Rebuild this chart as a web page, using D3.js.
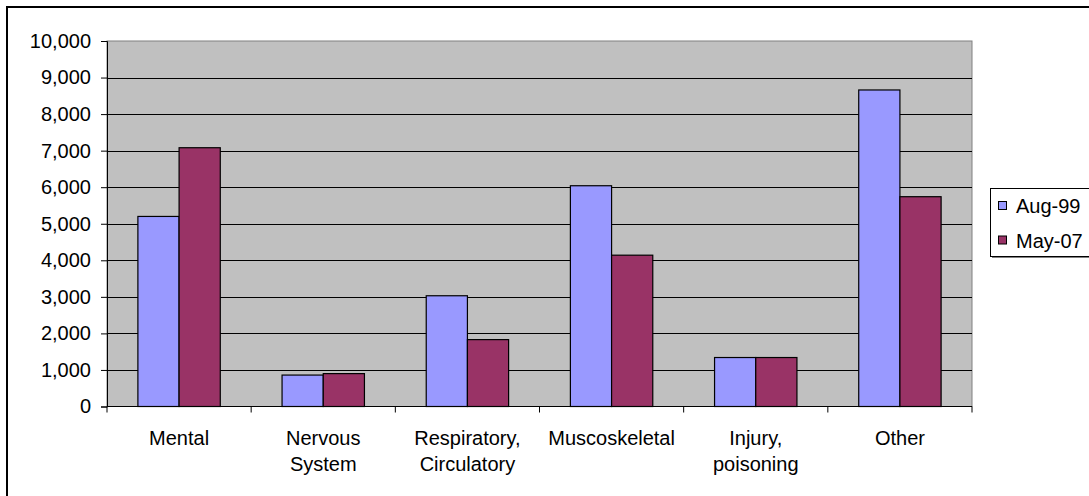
<html>
	<head>
		<meta content="text/html;charset=utf-8" http-equiv="Content-Type">
		<script src="https://d3js.org/d3.v7.min.js"></script>
		<style>
		body { margin: 0; background: #fff; }
		text { font-family: Arial, "Liberation Sans", sans-serif; }
		</style>
	</head>
	<body>
		<svg id="page"></svg>
		<script>

		// chart data
		var categories = ["Mental", "Nervous System", "Respiratory, Circulatory", "Muscoskeletal", "Injury, poisoning", "Other"];
		var labelLines = [["Mental"], ["Nervous", "System"], ["Respiratory,", "Circulatory"], ["Muscoskeletal"], ["Injury,", "poisoning"], ["Other"]];
		var seriesNames = ["Aug-99", "May-07"];
		var aug99 = [5200, 860, 3030, 6040, 1340, 8660];
		var may07 = [7080, 900, 1830, 4140, 1340, 5740];
		var yTicks = [0, 1000, 2000, 3000, 4000, 5000, 6000, 7000, 8000, 9000, 10000];
		var colors = ["#9999FF", "#993366"];

		var svg = d3.select("#page").attr("width", 1089).attr("height", 496);

		// outer chart border (runs off right and bottom edges)
		svg.append("rect")
			.attr("x", 7).attr("y", 7)
			.attr("width", 1100).attr("height", 500)
			.attr("fill", "white")
			.attr("stroke", "black")
			.attr("stroke-width", 2);

		// plot area edges (not "top": that name is taken by window.top)
		var plotL = 107, plotR = 972, plotT = 41, plotB = 406.5;

		var x = d3.scaleBand().domain(categories).range([plotL, plotR]).paddingInner(0).paddingOuter(0);
		var x1 = d3.scaleBand().domain(seriesNames).range([0, x.bandwidth()]).paddingInner(0).paddingOuter(0.75);
		var y = d3.scaleLinear().domain([0, 10000]).range([plotB, plotT]);

		// plot area
		svg.append("rect")
			.attr("x", plotL).attr("y", plotT)
			.attr("width", plotR - plotL).attr("height", plotB - plotT)
			.attr("fill", "#C0C0C0")
			.attr("stroke", "#808080")
			.attr("stroke-width", 1);

		// gridlines
		svg.append("g").selectAll("line")
			.data(yTicks.filter(function(d){ return d > 0 && d < 10000; }))
			.enter().append("line")
			.attr("x1", plotL).attr("x2", plotR)
			.attr("y1", function(d){ return Math.round(y(d)) + 0.5; })
			.attr("y2", function(d){ return Math.round(y(d)) + 0.5; })
			.attr("stroke", "black")
			.attr("stroke-width", 1);

		// bars
		var series = [aug99, may07];
		series.forEach(function(vals, s){
			svg.append("g").selectAll("rect")
				.data(vals)
				.enter().append("rect")
				.attr("x", function(d, i){ return x(categories[i]) + x1(seriesNames[s]); })
				.attr("y", function(d){ return y(d); })
				.attr("width", x1.bandwidth())
				.attr("height", function(d){ return plotB - y(d); })
				.attr("fill", colors[s])
				.attr("stroke", "black")
				.attr("stroke-width", 1.2);
		});

		// y axis
		var yAxis = svg.append("g")
			.attr("transform", "translate(" + plotL + ",0)")
			.call(d3.axisLeft(y).tickValues(yTicks).tickSize(6).tickPadding(10).tickFormat(d3.format(",")));
		yAxis.select(".domain").attr("stroke", "black");
		yAxis.selectAll("text").style("font-size", "20px").attr("fill", "black");

		// x axis
		var xAxis = svg.append("g")
			.attr("transform", "translate(0," + plotB + ")");
		xAxis.append("line")
			.attr("x1", plotL).attr("x2", plotR)
			.attr("y1", 0).attr("y2", 0)
			.attr("stroke", "black");
		var bounds = categories.map(function(c){ return x(c); }).concat([plotR]);
		xAxis.selectAll(".tk").data(bounds).enter().append("line")
			.attr("x1", function(d){ return d; }).attr("x2", function(d){ return d; })
			.attr("y1", 0).attr("y2", 6)
			.attr("stroke", "black");
		categories.forEach(function(c, i){
			var t = xAxis.append("text")
				.attr("x", x(c) + x.bandwidth() / 2)
				.attr("y", 38)
				.attr("text-anchor", "middle")
				.style("font-size", "20px")
				.attr("fill", "black");
			labelLines[i].forEach(function(line, j){
				t.append("tspan")
					.attr("x", x(c) + x.bandwidth() / 2)
					.attr("dy", j === 0 ? 0 : 26)
					.text(line);
			});
		});

		// legend
		var legend = svg.append("g");
		legend.append("rect")
			.attr("x", 992).attr("y", 190)
			.attr("width", 110).attr("height", 68)
			.attr("fill", "#808080");
		legend.append("rect")
			.attr("x", 990.5).attr("y", 188.5)
			.attr("width", 110).attr("height", 68)
			.attr("fill", "white")
			.attr("stroke", "black")
			.attr("stroke-width", 1);
		seriesNames.forEach(function(name, i){
			legend.append("rect")
				.attr("x", 998.5).attr("y", 201.5 + i * 34.5)
				.attr("width", 8).attr("height", 8)
				.attr("fill", colors[i])
				.attr("stroke", "black");
			legend.append("text")
				.attr("x", 1016).attr("y", 213 + i * 34.5)
				.style("font-size", "20px")
				.attr("fill", "black")
				.text(name);
		});

		</script>
	</body>
</html>
